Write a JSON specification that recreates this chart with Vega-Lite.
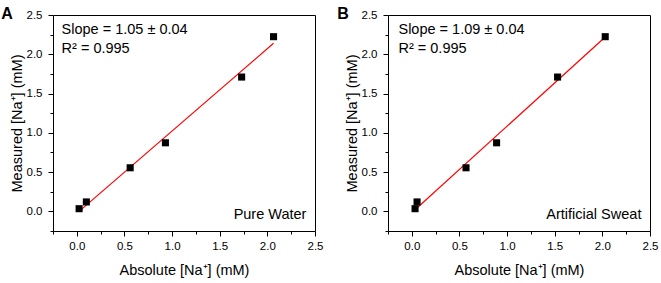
{
  "$schema": "https://vega.github.io/schema/vega-lite/v6.json",
  "background": "white",
  "padding": {"left": 0, "top": 5, "right": 0, "bottom": 0},
  "spacing": 12,
  "config": {
    "font": "Liberation Sans",
    "view": {"stroke": "black", "strokeWidth": 1},
    "axis": {
      "grid": false,
      "domain": false,
      "labelFont": "Liberation Sans",
      "labelFontSize": 11.5,
      "labelColor": "black",
      "labelOverlap": false,
      "labelFlush": false,
      "titleFont": "Liberation Sans",
      "titleFontSize": 14.5,
      "titleFontWeight": "normal",
      "titleColor": "black",
      "tickColor": "black",
      "tickWidth": 1,
      "tickSize": 5
    },
    "title": {"font": "Liberation Sans", "fontSize": 16, "fontWeight": "bold", "color": "black", "orient": "none", "align": "left", "baseline": "alphabetic", "dy": -9}
  },
  "datasets": {
    "pointsA": [
      {"absolute": 0.024, "measured": 0.034},
      {"absolute": 0.10, "measured": 0.12},
      {"absolute": 0.56, "measured": 0.555},
      {"absolute": 0.93, "measured": 0.873},
      {"absolute": 1.73, "measured": 1.71},
      {"absolute": 2.065, "measured": 2.224}
    ],
    "fitA": [
      {"absolute": 0.024, "measured": 0.0},
      {"absolute": 2.065, "measured": 2.14}
    ],
    "pointsB": [
      {"absolute": 0.034, "measured": 0.034},
      {"absolute": 0.055, "measured": 0.12},
      {"absolute": 0.569, "measured": 0.555},
      {"absolute": 0.89, "measured": 0.873},
      {"absolute": 1.53, "measured": 1.71},
      {"absolute": 2.03, "measured": 2.224}
    ],
    "fitB": [
      {"absolute": 0.034, "measured": 0.02},
      {"absolute": 2.03, "measured": 2.22}
    ]
  },
  "hconcat": [
    {
      "title": {"text": "A", "dx": -46},
      "width": 262,
      "height": 216,
      "resolve": {"axis": {"x": "independent", "y": "independent"}},
      "layer": [
        {
          "data": {"name": "fitA"},
          "mark": {"type": "line", "color": "#ff0000", "strokeWidth": 1.2},
          "encoding": {
            "x": {"field": "absolute", "type": "quantitative",
              "scale": {"domain": [-0.25, 2.5], "nice": false, "zero": false},
              "axis": {"title": "Absolute [Na⁺] (mM)", "orient": "bottom",
                "values": [0, 0.5, 1, 1.5, 2, 2.5], "format": ".1f",
                "labelPadding": 4, "titlePadding": 12}},
            "y": {"field": "measured", "type": "quantitative",
              "scale": {"domain": [-0.25, 2.5], "nice": false, "zero": false},
              "axis": {"title": "Measured [Na⁺] (mM)", "orient": "left",
                "values": [0, 0.5, 1, 1.5, 2, 2.5], "format": ".1f",
                "labelPadding": 6, "titlePadding": 2}}
          }
        },
        {
          "data": {"name": "pointsA"},
          "mark": {"type": "square", "filled": true, "color": "black", "size": 50, "opacity": 1},
          "encoding": {
            "x": {"field": "absolute", "type": "quantitative",
              "axis": {"orient": "bottom", "title": null, "labels": false, "tickSize": 3,
                "values": [-0.25, 0.25, 0.75, 1.25, 1.75, 2.25]}},
            "y": {"field": "measured", "type": "quantitative",
              "axis": {"orient": "left", "title": null, "labels": false, "tickSize": 3,
                "values": [-0.25, 0.25, 0.75, 1.25, 1.75, 2.25]}}
          }
        },
        {
          "data": {"values": [{}]},
          "mark": {"type": "text", "align": "left", "baseline": "middle", "fontSize": 14.5, "color": "black"},
          "encoding": {"x": {"datum": -0.16, "axis": null}, "y": {"datum": 2.31, "axis": null}, "text": {"value": "Slope = 1.05 ± 0.04"}}
        },
        {
          "data": {"values": [{}]},
          "mark": {"type": "text", "align": "left", "baseline": "middle", "fontSize": 14.5, "color": "black"},
          "encoding": {"x": {"datum": -0.16, "axis": null}, "y": {"datum": 2.07, "axis": null}, "text": {"value": "R² = 0.995"}}
        },
        {
          "data": {"values": [{}]},
          "mark": {"type": "text", "align": "right", "baseline": "middle", "fontSize": 14.5, "color": "black"},
          "encoding": {"x": {"datum": 2.41, "axis": null}, "y": {"datum": -0.04, "axis": null}, "text": {"value": "Pure Water"}}
        }
      ]
    },
    {
      "title": {"text": "B", "dx": -45},
      "width": 262,
      "height": 216,
      "resolve": {"axis": {"x": "independent", "y": "independent"}},
      "layer": [
        {
          "data": {"name": "fitB"},
          "mark": {"type": "line", "color": "#ff0000", "strokeWidth": 1.2},
          "encoding": {
            "x": {"field": "absolute", "type": "quantitative",
              "scale": {"domain": [-0.25, 2.5], "nice": false, "zero": false},
              "axis": {"title": "Absolute [Na⁺] (mM)", "orient": "bottom",
                "values": [0, 0.5, 1, 1.5, 2, 2.5], "format": ".1f",
                "labelPadding": 4, "titlePadding": 12}},
            "y": {"field": "measured", "type": "quantitative",
              "scale": {"domain": [-0.25, 2.5], "nice": false, "zero": false},
              "axis": {"title": "Measured [Na⁺] (mM)", "orient": "left",
                "values": [0, 0.5, 1, 1.5, 2, 2.5], "format": ".1f",
                "labelPadding": 6, "titlePadding": 2}}
          }
        },
        {
          "data": {"name": "pointsB"},
          "mark": {"type": "square", "filled": true, "color": "black", "size": 50, "opacity": 1},
          "encoding": {
            "x": {"field": "absolute", "type": "quantitative",
              "axis": {"orient": "bottom", "title": null, "labels": false, "tickSize": 3,
                "values": [-0.25, 0.25, 0.75, 1.25, 1.75, 2.25]}},
            "y": {"field": "measured", "type": "quantitative",
              "axis": {"orient": "left", "title": null, "labels": false, "tickSize": 3,
                "values": [-0.25, 0.25, 0.75, 1.25, 1.75, 2.25]}}
          }
        },
        {
          "data": {"values": [{}]},
          "mark": {"type": "text", "align": "left", "baseline": "middle", "fontSize": 14.5, "color": "black"},
          "encoding": {"x": {"datum": -0.14, "axis": null}, "y": {"datum": 2.31, "axis": null}, "text": {"value": "Slope = 1.09 ± 0.04"}}
        },
        {
          "data": {"values": [{}]},
          "mark": {"type": "text", "align": "left", "baseline": "middle", "fontSize": 14.5, "color": "black"},
          "encoding": {"x": {"datum": -0.14, "axis": null}, "y": {"datum": 2.07, "axis": null}, "text": {"value": "R² = 0.995"}}
        },
        {
          "data": {"values": [{}]},
          "mark": {"type": "text", "align": "right", "baseline": "middle", "fontSize": 14.5, "color": "black"},
          "encoding": {"x": {"datum": 2.41, "axis": null}, "y": {"datum": -0.04, "axis": null}, "text": {"value": "Artificial Sweat"}}
        }
      ]
    }
  ]
}
